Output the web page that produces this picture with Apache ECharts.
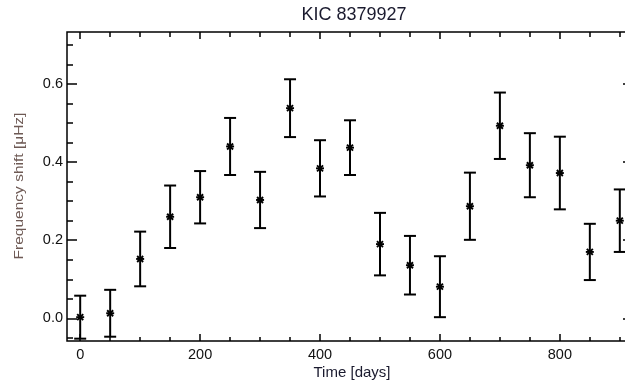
<!DOCTYPE html>
<html>
<head>
<meta charset="utf-8">
<script src="https://cdn.jsdelivr.net/npm/echarts@6/dist/echarts.min.js"></script>
<style>html,body{margin:0;padding:0;background:#fff;}#c{width:625px;height:383px;}</style>
</head>
<body>
<div id="c"></div>
<script>
var days = [0, 50, 100, 150, 200, 250, 300, 350, 400, 450, 500, 550, 600, 650, 700, 750, 800, 850, 900];
var shift = [0.003, 0.013, 0.152, 0.260, 0.310, 0.440, 0.303, 0.538, 0.384, 0.437, 0.190, 0.136, 0.081, 0.287, 0.493, 0.392, 0.372, 0.170, 0.250];
var err = [0.055, 0.060, 0.070, 0.080, 0.067, 0.073, 0.072, 0.074, 0.072, 0.070, 0.080, 0.075, 0.078, 0.086, 0.085, 0.082, 0.093, 0.072, 0.080];
var xMajor = [0, 200, 400, 600, 800];
var xMinor = [50, 100, 150, 250, 300, 350, 450, 500, 550, 650, 700, 750, 850, 900];
var yMajor = [0, 0.2, 0.4, 0.6];
var yMinor = [-0.05, 0.05, 0.1, 0.15, 0.25, 0.3, 0.35, 0.45, 0.5, 0.55, 0.65, 0.7];
var titleText = 'KIC 8379927';
var xName = 'Time [days]';
var yName = 'Frequency shift [\u03bcHz]';

var X_MIN = -22, X_MAX = 922, Y_MIN = -0.058, Y_MAX = 0.733;
var data = days.map(function (d, i) { return [d, shift[i], err[i]]; });
var FONT = '"Liberation Sans", Arial, sans-serif';

function xa(pos, ticks, len, labels) {
  return {
    type: 'value', position: pos, min: X_MIN, max: X_MAX,
    axisLine: { show: false, onZero: false }, splitLine: { show: false },
    axisTick: { show: true, inside: true, length: len, customValues: ticks, lineStyle: { color: '#000', width: 1.5 } },
    axisLabel: labels ? { show: true, customValues: labels, margin: 6, color: '#111', fontSize: 14.5, fontFamily: FONT } : { show: false }
  };
}
function ya(pos, ticks, len, labels) {
  return {
    type: 'value', position: pos, min: Y_MIN, max: Y_MAX,
    axisLine: { show: false, onZero: false }, splitLine: { show: false },
    axisTick: { show: true, inside: true, length: len, customValues: ticks, lineStyle: { color: '#000', width: 1.5 } },
    axisLabel: labels ? { show: true, customValues: labels, margin: 4, color: '#111', fontSize: 14.5, fontFamily: FONT,
      formatter: function (v) { return v.toFixed(1); } } : { show: false }
  };
}

var chart = echarts.init(document.getElementById('c'), null, { renderer: 'canvas' });
chart.setOption({
  animation: false,
  backgroundColor: '#fff',
  grid: { left: 67, top: 32, width: 566, bottom: 42, containLabel: false, outerBoundsMode: 'none', show: true, borderColor: '#000', borderWidth: 1.5, backgroundColor: 'transparent' },
  xAxis: [xa('bottom', xMajor, 7, xMajor), xa('bottom', xMinor, 4, null), xa('top', xMajor, 7, null), xa('top', xMinor, 5, null)],
  yAxis: [ya('left', yMajor, 10, yMajor), ya('left', yMinor, 6, null), ya('right', yMajor, 10, null), ya('right', yMinor, 6, null)],
  graphic: [
    { type: 'text', x: 354, y: 15, style: { text: titleText, fill: '#1a1a2e', font: '18px ' + FONT, textAlign: 'center', textVerticalAlign: 'middle' } },
    { type: 'text', x: 352, y: 373, style: { text: xName, fill: '#1a1a2e', font: '15px ' + FONT, textAlign: 'center', textVerticalAlign: 'middle' } },
    { type: 'text', rotation: Math.PI / 2, x: 20, y: 186, scaleY: 0.8, style: { text: yName, fill: '#6e5a55', font: '15.5px ' + FONT, textAlign: 'center', textVerticalAlign: 'middle' } }
  ],
  series: [{
    type: 'custom',
    xAxisIndex: 0, yAxisIndex: 0,
    data: data,
    renderItem: function (params, api) {
      var x = api.value(0), y = api.value(1), e = api.value(2);
      var c = api.coord([x, y]);
      var hi = api.coord([x, y + e]);
      var lo = api.coord([x, y - e]);
      var cw = 6, s = 4, d = 3;
      var st = { stroke: '#000', lineWidth: 2 };
      var st2 = { stroke: '#000', lineWidth: 1.9 };
      return {
        type: 'group',
        children: [
          { type: 'line', shape: { x1: c[0], y1: hi[1], x2: c[0], y2: lo[1] }, style: st },
          { type: 'line', shape: { x1: c[0] - cw, y1: hi[1], x2: c[0] + cw, y2: hi[1] }, style: st },
          { type: 'line', shape: { x1: c[0] - cw, y1: lo[1], x2: c[0] + cw, y2: lo[1] }, style: st },
          { type: 'line', shape: { x1: c[0] - s, y1: c[1], x2: c[0] + s, y2: c[1] }, style: st2 },
          { type: 'line', shape: { x1: c[0] - d, y1: c[1] - d, x2: c[0] + d, y2: c[1] + d }, style: st2 },
          { type: 'line', shape: { x1: c[0] - d, y1: c[1] + d, x2: c[0] + d, y2: c[1] - d }, style: st2 }
        ]
      };
    }
  }]
});
</script>
</body>
</html>
